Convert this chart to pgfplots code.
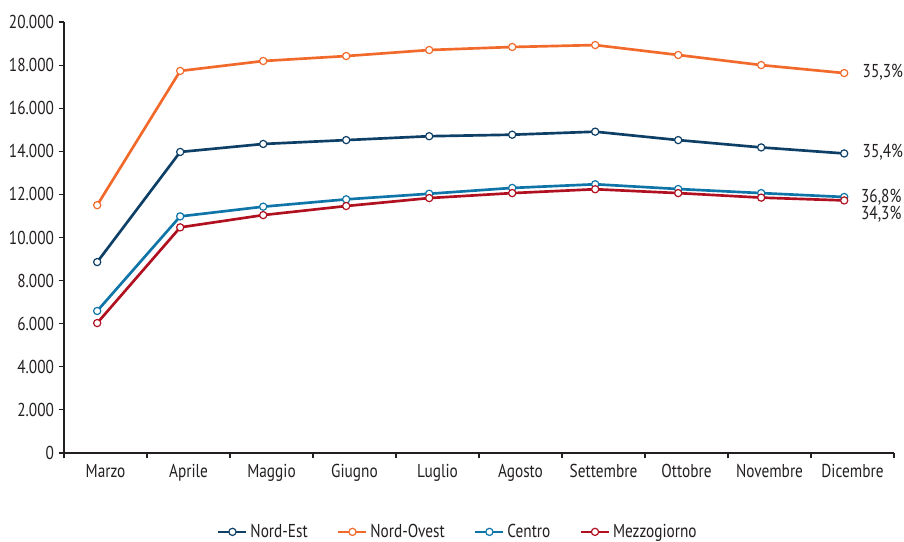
\documentclass[border=0pt]{standalone}
\usepackage{fontspec}
\setmainfont{PT Sans}[FakeStretch=0.82]
\usepackage{pgfplots}
\pgfplotsset{compat=1.18}
\usepackage{pgfplotstable}

\definecolor{nordest}{HTML}{0E3F66}
\definecolor{nordovest}{HTML}{F26A2B}
\definecolor{centro}{HTML}{0F75A8}
\definecolor{mezzo}{HTML}{B0101F}
\definecolor{txt}{HTML}{231F20}

% x = posizione del mese (punto spostato a sinistra del centro categoria)
\pgfplotstableread{
x     ne     no     ce     me
-0.1  8860   11500  6590   6030
0.9   13970  17730  10980  10470
1.9   14340  18190  11430  11040
2.9   14520  18420  11770  11460
3.9   14700  18700  12030  11830
4.9   14770  18840  12300  12060
5.9   14910  18930  12470  12240
6.9   14520  18470  12250  12060
7.9   14180  18000  12060  11850
8.9   13900  17630  11880  11720
}\dati

\begin{document}
\begin{tikzpicture}[x=0.75pt,y=0.75pt]
\useasboundingbox (-64,-89) rectangle (840,453);
\begin{axis}[
    at={(0,0)}, anchor=south west,
    scale only axis,
    width=622.5pt, height=323.25pt,
    xmin=-0.5, xmax=9.5,
    ymin=0, ymax=20000,
    axis lines*=left,
    axis line style={txt, line width=0.9pt},
    xtick={0,...,9},
    xticklabels={Marzo,Aprile,Maggio,Giugno,Luglio,Agosto,Settembre,Ottobre,Novembre,Dicembre},
    major x tick style={draw=none},
    minor xtick={-0.5,0.5,...,9.5},
    minor x tick style={txt, line width=0.8pt},
    ytick={0,2000,...,20000},
    y tick style={txt, line width=0.8pt},
    tick align=outside,
    major tick length=4pt,
    minor tick length=4pt,
    scaled y ticks=false,
    yticklabel style={/pgf/number format/.cd, 1000 sep={.}, min exponent for 1000 sep=0},
    /pgf/number format/assume math mode=true,
    tick label style={font=\fontsize{14}{16}\selectfont, text=txt},
    xticklabel style={yshift=-1pt},
    every axis plot/.append style={line width=2pt, mark=*, mark size=2.7pt,
        mark options={fill=white, line width=0.9pt}},
    legend style={at={(0.475,-0.183)}, anchor=center, draw=none,
        font=\fontsize{14}{16}\selectfont, text=txt,
        /tikz/every even column/.append style={column sep=20pt}},
    legend columns=4,
    legend image code/.code={
        \draw[#1, mark=none] (0pt,0pt) -- (21pt,0pt);
        \draw[#1, only marks] plot coordinates {(10.5pt,0pt)};
    },
    clip=false,
]
\addplot[nordest] table[x=x,y=ne] {\dati};
\addplot[nordovest] table[x=x,y=no] {\dati};
\addplot[centro] table[x=x,y=ce] {\dati};
\addplot[mezzo] table[x=x,y=me] {\dati};
\legend{Nord-Est,Nord-Ovest,Centro,Mezzogiorno}

\begin{scope}[every node/.style={anchor=west, inner sep=0pt, text=txt, font=\fontsize{14}{16}\selectfont}]
\node at (axis cs:9.12,17680) {35,3\%};
\node at (axis cs:9.12,13950) {35,4\%};
\node at (axis cs:9.1,11880) {36,8\%};
\node at (axis cs:9.1,11100) {34,3\%};
\end{scope}
\end{axis}
\end{tikzpicture}
\end{document}
